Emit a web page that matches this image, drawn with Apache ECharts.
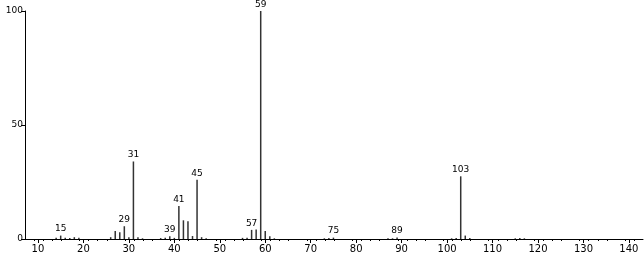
<!DOCTYPE html>
<html><head><meta charset="utf-8">
<script src="https://cdn.jsdelivr.net/npm/echarts@6/dist/echarts.min.js"></script>
<style>html,body{margin:0;padding:0;background:#fff}#c{width:644px;height:256px}</style>
</head><body><div id="c"></div>
<script>
const mz = [14,15,16,17,18,19,26,27,28,29,30,31,32,33,37,38,39,40,41,42,43,44,45,46,47,55,56,57,58,59,60,61,62,73,74,75,87,88,89,101,102,103,104,105,115,116,117];
const intensity = [0.6,1.5,0.5,0.4,0.8,0.6,0.8,3.5,3,5.6,0.8,34,0.8,0.3,0.4,0.5,1.2,0.5,14.5,8.2,7.8,1.3,26,0.8,0.3,0.5,0.6,4,4.2,100,3.5,1.2,0.3,0.3,0.4,0.6,0.3,0.3,0.7,0.3,0.4,27.5,1.5,0.4,0.3,0.4,0.3];
const labeled = [15,29,31,39,41,45,57,59,75,89,103];
const xTicks = [10,20,30,40,50,60,70,80,90,100,110,120,130,140];
const yTicks = [0,50,100];

const data = mz.map((m,i)=>{
  const d = {value:[m,intensity[i]]};
  if (labeled.includes(m)) d.label = {show:true};
  return d;
});
const chart = echarts.init(document.getElementById('c'));
const font = 'DejaVu Sans';
chart.setOption({
  animation:false,
  grid:{left:25,right:1,top:11,bottom:17},
  xAxis:{type:'value',min:7.15,max:143.1,interval:10,
    axisLine:{onZero:false,lineStyle:{color:'#000',width:1}},
    axisTick:{show:true,length:4,lineStyle:{color:'#000'},customValues:xTicks},
    minorTick:{show:true,splitNumber:5,length:2,lineStyle:{color:'#000'}},
    axisLabel:{color:'#000',fontSize:10,fontFamily:font,margin:5,hideOverlap:false,
      customValues:xTicks,showMinLabel:true,showMaxLabel:true,
      formatter:v=>xTicks.includes(Math.round(v*100)/100)?String(Math.round(v)):''},
    splitLine:{show:false}},
  yAxis:{type:'value',min:0,max:100,interval:50,
    axisLine:{show:true,lineStyle:{color:'#000'}},
    axisTick:{show:true,length:4,lineStyle:{color:'#000'},customValues:yTicks},
    axisLabel:{color:'#000',fontSize:9,fontFamily:font,margin:2,customValues:yTicks},
    splitLine:{show:false}},
  series:[{type:'bar',barWidth:1.5,clip:false,itemStyle:{color:'#333'},
    label:{show:false,position:'top',distance:2,color:'#000',fontSize:9,fontFamily:font,
      formatter:p=>String(p.value[0])},
    data:data}]
});
</script></body></html>
